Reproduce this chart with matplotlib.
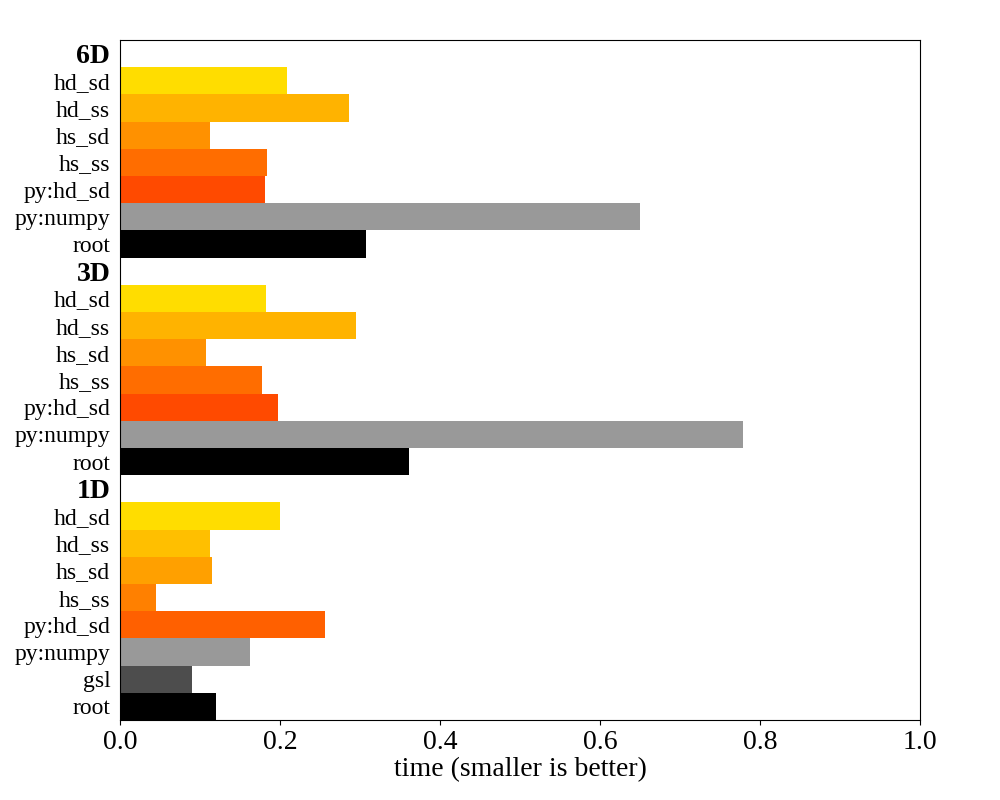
import matplotlib
matplotlib.use("Agg")
import matplotlib.pyplot as plt

plt.rcParams['font.family'] = ['Liberation Serif', 'DejaVu Serif']

groups = ["6D", "3D", "1D"]
labels_6d = ["hd_sd", "hd_ss", "hs_sd", "hs_ss", "py:hd_sd", "py:numpy", "root"]
values_6d = [0.209, 0.286, 0.1125, 0.184, 0.181, 0.65, 0.3075]
colors_6d = ["#FFDD00", "#FFB300", "#FF9100", "#FF6D00", "#FF4A00", "#999999", "#000000"]

labels_3d = ["hd_sd", "hd_ss", "hs_sd", "hs_ss", "py:hd_sd", "py:numpy", "root"]
values_3d = [0.1825, 0.295, 0.1075, 0.1775, 0.1975, 0.779, 0.361]
colors_3d = ["#FFDD00", "#FFB300", "#FF9100", "#FF6D00", "#FF4A00", "#999999", "#000000"]

labels_1d = ["hd_sd", "hd_ss", "hs_sd", "hs_ss", "py:hd_sd", "py:numpy", "gsl", "root"]
values_1d = [0.2, 0.1125, 0.115, 0.045, 0.256, 0.1625, 0.09, 0.12]
colors_1d = ["#FFDD00", "#FFBF00", "#FFA000", "#FF8000", "#FF6000", "#999999", "#4D4D4D", "#000000"]

fig = plt.figure(figsize=(10, 8), dpi=100)
ax = fig.add_axes([0.12, 0.10, 0.80, 0.85])

rows = []  # (label, value, color, is_header)
for g, labs, vals, cols in [("6D", labels_6d, values_6d, colors_6d),
                            ("3D", labels_3d, values_3d, colors_3d),
                            ("1D", labels_1d, values_1d, colors_1d)]:
    rows.append((g, None, None, True))
    for l, v, c in zip(labs, vals, cols):
        rows.append((l, v, c, False))

n = len(rows)
ypos = [n - 1 - i for i in range(n)]
for (lab, v, c, hdr), y in zip(rows, ypos):
    if not hdr:
        ax.barh(y, v, height=1.0, color=c, edgecolor='none')

ax.set_yticks(ypos)
ax.set_yticklabels([r[0] for r in rows])
for tl, r in zip(ax.get_yticklabels(), rows):
    if r[3]:
        tl.set_fontweight('bold')
        tl.set_fontsize(20)
    else:
        tl.set_fontsize(17)
ax.tick_params(axis='y', length=0, pad=7)
ax.tick_params(axis='x', labelsize=20, direction='out')
ax.set_ylim(-0.5, n - 0.5)
ax.set_xlim(0, 1.0)
ax.set_xlabel("time (smaller is better)", fontsize=20, labelpad=2)

fig.savefig("out.png", dpi=100)
